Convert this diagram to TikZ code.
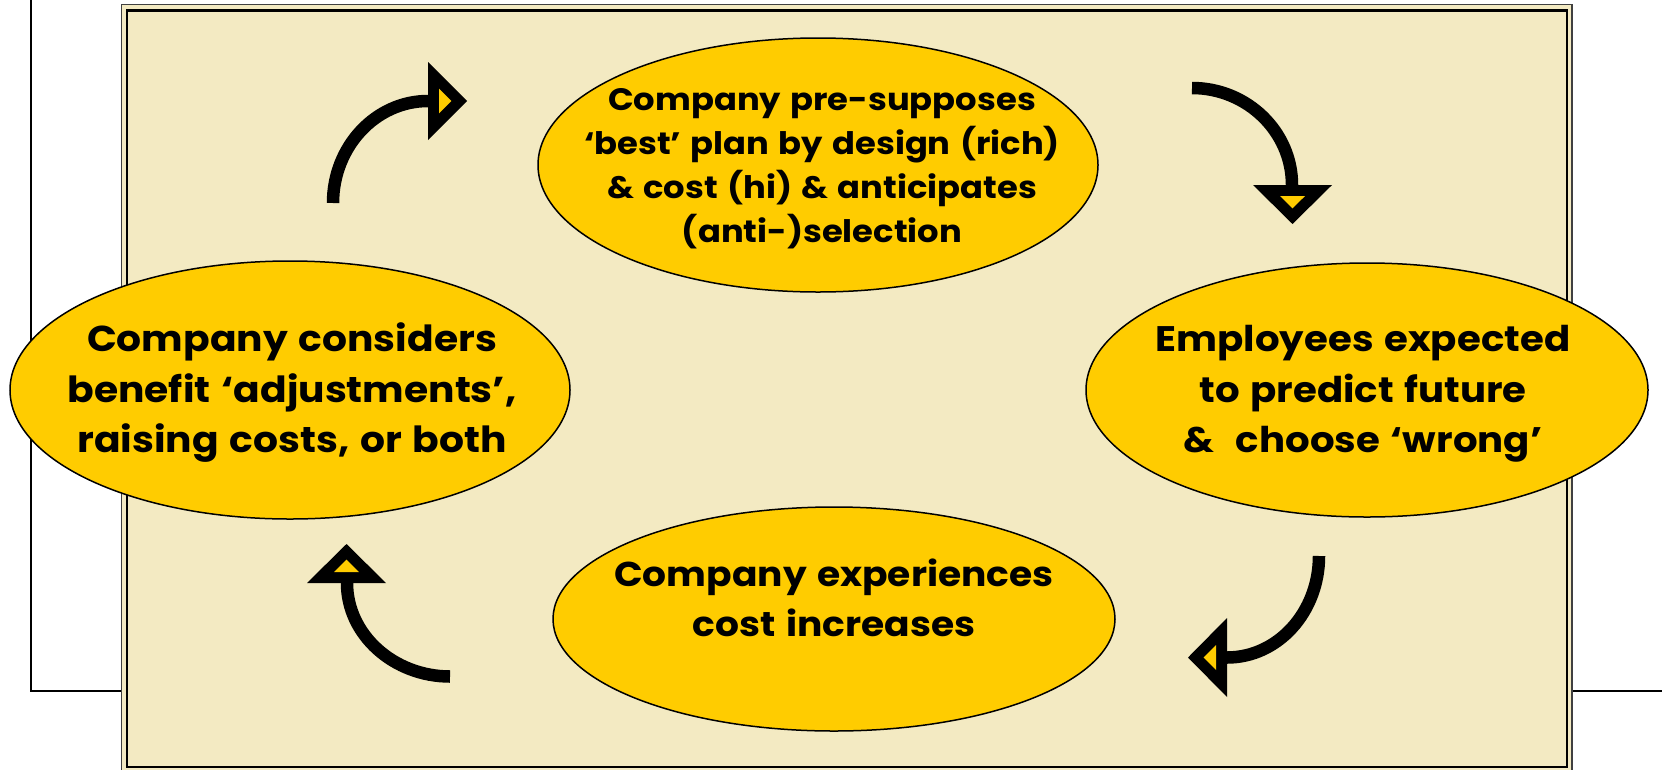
\documentclass[tikz,border=0pt]{standalone}
\usepackage{fontspec}
\setmainfont{Poppins}[FakeStretch=1.09, WordSpace=1.3]
\usetikzlibrary{shapes.geometric}
\definecolor{paper}{RGB}{243,234,194}
\definecolor{gold}{RGB}{255,204,0}
\begin{document}
\begin{tikzpicture}[x=1pt,y=-1pt,
  bubble/.style={ellipse, draw=black, line width=1.5pt, fill=gold, inner sep=0pt},
  bigtext/.style={align=center, inner sep=0pt, font=\bfseries\fontsize{36}{50.5}\selectfont},
  smalltext/.style={align=center, inner sep=0pt, font=\bfseries\fontsize{31}{44}\selectfont},
  shaft/.style={line width=12.5pt, line cap=butt},
]
\useasboundingbox (0,0) rectangle (1662,769);

% side rules behind the panel
\draw[line width=2.5pt] (31,0) -- (31,691) -- (121,691);
\draw[line width=2.5pt] (1572,691) -- (1662,691);

% double-ruled panel
\draw[fill=paper, draw=black!75, line width=1.5pt] (121.5,4.5) rectangle (1572,780);
\draw[line width=2.5pt] (127,10.5) rectangle (1567,767);

% the four stages of the cycle
\node[bubble, minimum width=560pt, minimum height=254pt] (plan) at (818,165) {};
\node[bubble, minimum width=560pt, minimum height=258pt] (adjust) at (290,390) {};
\node[bubble, minimum width=562pt, minimum height=254pt] (choose) at (1367,390) {};
\node[bubble, minimum width=562pt, minimum height=224pt] (costs) at (834,619) {};

\node[smalltext] (plan-txt) at (822,169)
  {Company pre-supposes\\ ‘best’ plan by design (rich)\\ \& cost (hi) \& anticipates\\ (anti-)selection};
\node[bigtext] (adjust-txt) at (292,393)
  {Company considers\\ benefit ‘adjustments’,\\ raising costs, or both};
\node[bigtext,font=\bfseries\fontsize{35.5}{50.5}\selectfont] (choose-txt) at (1363,394)
  {Employees expected\\ to predict future\\ \&\ \ choose ‘wrong’};
\node[bigtext,font=\bfseries\fontsize{34.5}{49.5}\selectfont] (costs-txt) at (834,598)
  {Company experiences\\ cost increases};

% curved arrows between the stages
\coordinate (a1s) at (333,203); \coordinate (a1e) at (428,101);
\coordinate (a2s) at (1192,88); \coordinate (a2e) at (1292,185);
\coordinate (a3s) at (1319,556); \coordinate (a3e) at (1227,657.5);
\coordinate (a4s) at (450,676.5); \coordinate (a4e) at (347,583);

\draw[shaft] (a1s) .. controls (333,146.7) and (375.6,101) .. (a1e);
\draw[shaft] (a2s) .. controls (1247,88) and (1292,131.5) .. (a2e);
\draw[shaft] (a3s) .. controls (1319,612) and (1278,657.5) .. (a3e);
\draw[shaft] (a4s) .. controls (394,676.5) and (347,635) .. (a4e);

% arrowheads: black triangle with a small gold core
\fill[black] (428,62) -- (428,140) -- (467,101) -- cycle;
\fill[gold] (439,88.6) -- (439,113.4) -- (451.4,101) -- cycle;

\fill[black] (1253,185) -- (1332,185) -- (1292.5,224) -- cycle;
\fill[gold] (1280,196) -- (1305,196) -- (1292.5,208.4) -- cycle;

\fill[black] (1227,618) -- (1227,697) -- (1188,657.5) -- cycle;
\fill[gold] (1216,645) -- (1216,670) -- (1203.6,657.5) -- cycle;

\fill[black] (307,583) -- (386,583) -- (346.5,544) -- cycle;
\fill[gold] (334,572) -- (359,572) -- (346.5,559.6) -- cycle;
\end{tikzpicture}
\end{document}
